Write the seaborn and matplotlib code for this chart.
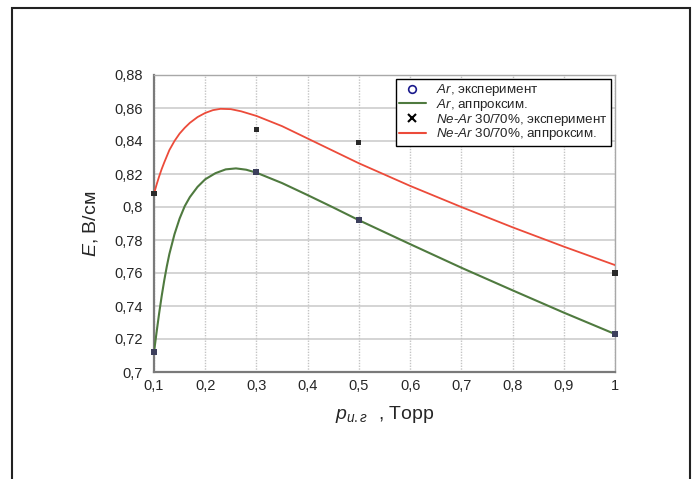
import pandas as pd
import matplotlib
matplotlib.use('Agg')
import matplotlib.pyplot as plt
import seaborn as sns
from matplotlib.lines import Line2D
from matplotlib.patches import Rectangle

# experimental points
p_exp = [0.1, 0.3, 0.5, 1.0]
e_ar_exp = [0.712, 0.821, 0.792, 0.723]
e_near_exp = [0.808, 0.847, 0.839, 0.760]

# approximation curves
p_ar_fit = [0.100, 0.105, 0.110, 0.115, 0.120, 0.125, 0.130, 0.140, 0.150, 0.160,
            0.170, 0.185, 0.200, 0.220, 0.240, 0.260, 0.280, 0.300, 0.350, 0.400,
            0.450, 0.500, 0.600, 0.700, 0.800, 0.900, 1.000]
e_ar_fit = [0.712, 0.724, 0.7355, 0.746, 0.7555, 0.764, 0.7715, 0.7835, 0.793, 0.8005,
            0.806, 0.8122, 0.8168, 0.8205, 0.8228, 0.8234, 0.8226, 0.8208, 0.8145, 0.8072,
            0.7997, 0.792, 0.7775, 0.7632, 0.7495, 0.736, 0.723]

p_near_fit = [0.100, 0.105, 0.110, 0.115, 0.120, 0.130, 0.140, 0.150, 0.160, 0.170,
              0.185, 0.200, 0.215, 0.230, 0.250, 0.270, 0.300, 0.350, 0.400, 0.450,
              0.500, 0.600, 0.700, 0.800, 0.900, 1.000]
e_near_fit = [0.808, 0.8135, 0.8185, 0.823, 0.827, 0.8345, 0.840, 0.8445, 0.848, 0.851,
              0.8545, 0.857, 0.8587, 0.8595, 0.8593, 0.858, 0.8552, 0.849, 0.8415, 0.834,
              0.8265, 0.8128, 0.800, 0.7877, 0.776, 0.7648]

y_ticks = [0.70, 0.72, 0.74, 0.76, 0.78, 0.80, 0.82, 0.84, 0.86, 0.88]
y_tick_labels = ['0,7', '0,72', '0,74', '0,76', '0,78', '0,8', '0,82', '0,84', '0,86', '0,88']
x_ticks = [0.1, 0.2, 0.3, 0.4, 0.5, 0.6, 0.7, 0.8, 0.9, 1.0]
x_tick_labels = ['0,1', '0,2', '0,3', '0,4', '0,5', '0,6', '0,7', '0,8', '0,9', '1']

GREEN = '#4f7a3f'
RED = '#ec4b3a'

sns.set_style('white')
plt.rcParams['font.family'] = ['Liberation Sans', 'DejaVu Sans']
plt.rcParams['mathtext.fontset'] = 'custom'
plt.rcParams['mathtext.it'] = 'Liberation Sans:italic'
plt.rcParams['mathtext.rm'] = 'Liberation Sans'

df_ar_fit = pd.DataFrame({'p': p_ar_fit, 'E': e_ar_fit})
df_near_fit = pd.DataFrame({'p': p_near_fit, 'E': e_near_fit})
df_ar_exp = pd.DataFrame({'p': p_exp, 'E': e_ar_exp})
df_near_exp = pd.DataFrame({'p': p_exp, 'E': e_near_exp})

fig = plt.figure(figsize=(6.94, 4.79), dpi=100)
ax = fig.add_axes([154 / 694, 1 - 372 / 479, 461 / 694, 297 / 479])

sns.lineplot(data=df_ar_fit, x='p', y='E', color=GREEN, linewidth=1.5, ax=ax, zorder=3)
sns.lineplot(data=df_near_fit, x='p', y='E', color=RED, linewidth=1.3, ax=ax, zorder=3)
sns.scatterplot(data=df_ar_exp, x='p', y='E', marker='s', s=18, color='#3c3f5c',
                edgecolor='none', ax=ax, zorder=4, clip_on=False)
sns.scatterplot(data=df_near_exp, x='p', y='E', marker='s', s=14, color='#2a2a2a',
                edgecolor='none', ax=ax, zorder=4, clip_on=False)

ax.set_xlim(0.1, 1.0)
ax.set_ylim(0.7, 0.88)
ax.set_xticks(x_ticks)
ax.set_xticklabels(x_tick_labels)
ax.set_yticks(y_ticks)
ax.set_yticklabels(y_tick_labels)
ax.tick_params(axis='both', labelsize=10.5, direction='in', length=3, color='#888888')
ax.tick_params(axis='y', pad=8)
ax.tick_params(axis='x', pad=5)
ax.grid(True, axis='y', color='#c9c9c9', linewidth=1.1, linestyle='-')
ax.grid(True, axis='x', color='#c4c4c4', linewidth=1.0, linestyle=(0, (1, 1)))
ax.set_axisbelow(True)
for side in ['left', 'bottom']:
    ax.spines[side].set_color('#7a7a7a')
    ax.spines[side].set_linewidth(1.6)
for side in ['top', 'right']:
    ax.spines[side].set_color('#a8a8a8')
    ax.spines[side].set_linewidth(1.0)

ax.set_xlabel(r'$p_{и.г}$  , Торр', fontsize=14, labelpad=8)
ax.set_ylabel(r'$E$, В/см', fontsize=14, labelpad=10)

handles = [
    Line2D([], [], linestyle='none', marker='o', markerfacecolor='none',
           markeredgecolor='#1a1a8c', markersize=5.5, markeredgewidth=1.2),
    Line2D([], [], color=GREEN, linewidth=1.5),
    Line2D([], [], linestyle='none', marker='x', color='black', markersize=5.5,
           markeredgewidth=1.5),
    Line2D([], [], color=RED, linewidth=1.5),
]
labels = [r'$Ar$, эксперимент', r'$Ar$, аппроксим.',
          r'$Ne$-$Ar$ 30/70%, эксперимент', r'$Ne$-$Ar$ 30/70%, аппроксим.']
leg = ax.legend(handles, labels, loc='upper right', fontsize=9.6, frameon=True,
                fancybox=False, framealpha=1, edgecolor='black', borderaxespad=0.3,
                handlelength=2.0, labelspacing=-0.1, borderpad=0.25, handletextpad=0.8)
leg.get_frame().set_linewidth(1.0)

# outer frame around the whole figure
fig.patches.append(Rectangle((12 / 694, -0.02), 678 / 694, 1 - 8 / 479 + 0.02,
                             transform=fig.transFigure, fill=False,
                             edgecolor='#222222', linewidth=1.5))

fig.savefig('out.png', dpi=100)
